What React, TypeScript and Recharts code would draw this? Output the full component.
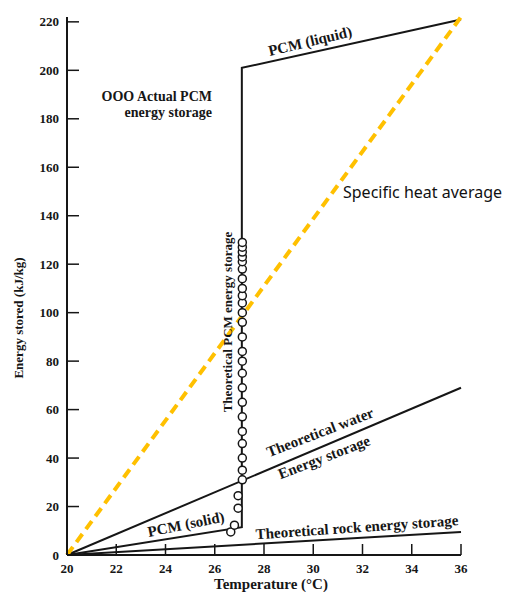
import { ComposedChart, Line, Scatter, XAxis, YAxis } from "recharts";

// temperatures (°C) and stored energy (kJ/kg)
const tempTicks = [20, 22, 24, 26, 28, 30, 32, 34, 36];
const energyTicks = [0, 20, 40, 60, 80, 100, 120, 140, 160, 180, 200, 220];

const pcmTemp = [20, 27.1, 27.1, 36];
const pcmEnergy = [0, 11.5, 201, 221];

const waterTemp = [20, 36];
const waterEnergy = [0, 69];

const rockTemp = [20, 36];
const rockEnergy = [0, 9.5];

const averageTemp = [20, 36];
const averageEnergy = [0, 222];

const actualTemp = [
  26.65, 26.8, 26.95, 26.95, 27.12, 27.12, 27.12, 27.12, 27.12, 27.12, 27.12,
  27.12, 27.12, 27.12, 27.12, 27.12, 27.12, 27.12, 27.12, 27.12, 27.12, 27.12,
  27.12, 27.12, 27.12, 27.12, 27.12, 27.12,
];
const actualEnergy = [
  9.5, 12.3, 19.3, 24.5, 31, 35, 40, 46, 51, 57, 63, 69, 75, 80, 84, 90, 96,
  100, 104, 107, 110, 114, 118, 121, 123, 125, 127, 129,
];

const toPoints = (xs: number[], ys: number[]) =>
  xs.map((x, i) => ({ x, y: ys[i] }));

const INK = "#161616";
const SERIF = "'Liberation Serif', 'DejaVu Serif', serif";

const XTick = ({ x, y, payload }: any) => (
  <g>
    <line x1={x} y1={y} x2={x} y2={y - 11} stroke={INK} strokeWidth={1.5} />
    <text
      x={x}
      y={y + 18}
      textAnchor="middle"
      fontFamily={SERIF}
      fontWeight="bold"
      fontSize={13}
      fill={INK}
    >
      {payload.value}
    </text>
  </g>
);

const YTick = ({ x, y, payload }: any) => (
  <g>
    <line x1={x} y1={y} x2={x + 12} y2={y} stroke={INK} strokeWidth={1.5} />
    <text
      x={x - 8}
      y={y + 4.5}
      textAnchor="end"
      fontFamily={SERIF}
      fontWeight="bold"
      fontSize={13}
      fill={INK}
    >
      {payload.value}
    </text>
  </g>
);

const OpenCircle = ({ cx, cy }: any) => (
  <circle cx={cx} cy={cy} r={4} fill="#fff" stroke={INK} strokeWidth={1.5} />
);

const Note = ({ x, y, angle = 0, size = 15, children }: any) => (
  <text
    x={x}
    y={y}
    dy="0.35em"
    textAnchor="middle"
    transform={`rotate(${angle} ${x} ${y})`}
    fontFamily={SERIF}
    fontWeight="bold"
    fontSize={size}
    fill={INK}
  >
    {children}
  </text>
);

export default function App() {
  return (
    <div style={{ position: "absolute", left: 0, top: 0, width: 526, height: 592, background: "#fff" }}>
      <ComposedChart
        width={526}
        height={592}
        margin={{ top: 17, right: 65, bottom: 0, left: 0 }}
      >
        <XAxis
          type="number"
          dataKey="x"
          domain={[20, 36]}
          ticks={tempTicks}
          tickSize={0}
          tickMargin={0}
          tick={<XTick />}
          axisLine={{ stroke: INK, strokeWidth: 2 }}
          height={37}
        />
        <YAxis
          type="number"
          dataKey="y"
          domain={[0, 222]}
          ticks={energyTicks}
          tickSize={0}
          tickMargin={0}
          tick={<YTick />}
          axisLine={{ stroke: INK, strokeWidth: 2 }}
          width={67}
        />
        <Line
          data={toPoints(rockTemp, rockEnergy)}
          dataKey="y"
          type="linear"
          stroke={INK}
          strokeWidth={2}
          dot={false}
          isAnimationActive={false}
        />
        <Line
          data={toPoints(waterTemp, waterEnergy)}
          dataKey="y"
          type="linear"
          stroke={INK}
          strokeWidth={2}
          dot={false}
          isAnimationActive={false}
        />
        <Line
          data={toPoints(pcmTemp, pcmEnergy)}
          dataKey="y"
          type="linear"
          stroke={INK}
          strokeWidth={2}
          dot={false}
          isAnimationActive={false}
        />
        <Scatter
          data={toPoints(actualTemp, actualEnergy)}
          shape={<OpenCircle />}
          isAnimationActive={false}
        />
        <Line
          data={toPoints(averageTemp, averageEnergy)}
          dataKey="y"
          type="linear"
          stroke="#FFC000"
          strokeWidth={4}
          strokeDasharray="10 6"
          dot={false}
          isAnimationActive={false}
        />
      </ComposedChart>

      <svg
        width={526}
        height={592}
        style={{ position: "absolute", left: 0, top: 0, pointerEvents: "none" }}
      >
        <text x={212} y={101} textAnchor="end" fontFamily={SERIF} fontWeight="bold" fontSize={14} fill={INK}>
          OOO Actual PCM
        </text>
        <text x={212} y={117} textAnchor="end" fontFamily={SERIF} fontWeight="bold" fontSize={14} fill={INK}>
          energy storage
        </text>
        <Note x={310} y={41} angle={-13.5}>PCM (liquid)</Note>
        <text x={343} y={198} fontFamily="'Noto Sans', sans-serif" fontSize={16} fill="#111">
          Specific heat average
        </text>
        <Note x={227} y={322} angle={-90} size={13}>Theoretical PCM energy storage</Note>
        <Note x={320} y={432} angle={-21}>Theoretical water</Note>
        <Note x={324} y={457} angle={-21}>Energy storage</Note>
        <Note x={186} y={524} angle={-11.5}>PCM (solid)</Note>
        <Note x={357} y={527} angle={-4}>Theoretical rock energy storage</Note>
        <Note x={18} y={318} angle={-90} size={13}>Energy stored (kJ/kg)</Note>
        <Note x={271} y={584}>Temperature (°C)</Note>
      </svg>
    </div>
  );
}
